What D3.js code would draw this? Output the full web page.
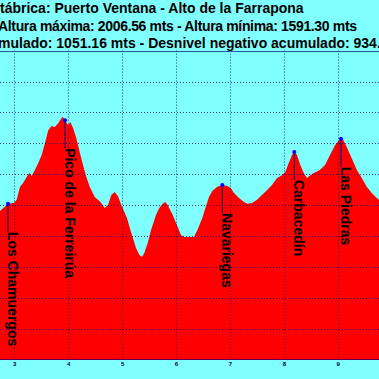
<!DOCTYPE html>
<html>
<head>
<meta charset="utf-8">
<script src="https://cdn.jsdelivr.net/npm/d3@7"></script>
<style>
  html, body { margin: 0; padding: 0; background: #80ffff; overflow: hidden; }
  svg { display: block; }
  text { font-family: "Liberation Sans", Arial, sans-serif; }
</style>
</head>
<body>
<svg id="chart" width="379" height="379"></svg>
<script>
// ---- Data ----
const titleLines = [
  "Cordillera Cantábrica: Puerto Ventana - Alto de la Farrapona",
  "Altura máxima: 2006.56 mts - Altura mínima: 1591.30 mts",
  "Desnivel positivo acumulado: 1051.16 mts - Desnivel negativo acumulado: 934.02 mts"
];
const distKm = [2.735, 2.883, 2.994, 3.045, 3.106, 3.167, 3.230, 3.278, 3.323, 3.384,
  3.445, 3.508, 3.570, 3.631, 3.694, 3.755, 3.816, 3.879, 3.894, 3.941,
  3.996, 4.039, 4.089, 4.150, 4.213, 4.275, 4.336, 4.399, 4.492, 4.553,
  4.614, 4.677, 4.738, 4.800, 4.863, 4.924, 4.985, 5.091, 5.165, 5.258,
  5.319, 5.369, 5.412, 5.475, 5.536, 5.629, 5.690, 5.753, 5.801, 5.846,
  5.939, 6.032, 6.093, 6.154, 6.260, 6.334, 6.395, 6.488, 6.551, 6.612,
  6.673, 6.766, 6.859, 6.952, 7.015, 7.076, 7.169, 7.262, 7.323, 7.410,
  7.503, 7.596, 7.689, 7.781, 7.874, 7.967, 8.028, 8.091, 8.152, 8.195,
  8.245, 8.306, 8.369, 8.430, 8.492, 8.555, 8.597, 8.672, 8.764, 8.857,
  8.950, 9.043, 9.061, 9.104, 9.167, 9.260, 9.353, 9.446, 9.538, 9.631,
  9.724, 9.766];
const elevM = [1701, 1724, 1727, 1737, 1779, 1792, 1811, 1824, 1814, 1834,
  1856, 1882, 1921, 1963, 1976, 1973, 1986, 2002, 2006.56, 1995,
  1979, 1989, 1970, 1937, 1892, 1850, 1811, 1779, 1746, 1737,
  1727, 1711, 1720, 1753, 1762, 1749, 1720, 1678, 1633, 1581,
  1559, 1552, 1565, 1597, 1639, 1688, 1711, 1724, 1730, 1720,
  1688, 1649, 1623, 1617, 1617, 1617, 1639, 1678, 1714, 1746,
  1766, 1779, 1785, 1782, 1775, 1759, 1743, 1730, 1724, 1727,
  1737, 1753, 1769, 1785, 1808, 1817, 1827, 1856, 1882, 1892,
  1882, 1850, 1824, 1808, 1817, 1824, 1827, 1834, 1850, 1882,
  1914, 1934, 1935, 1931, 1908, 1872, 1834, 1808, 1779, 1759,
  1743, 1737];
const waypointNames = ["Los Chamuergos", "Pico de la Ferreirúa", "Navariegas", "Carbacedín", "Las Piedras"];
const waypointKm = [2.883, 3.941, 6.859, 8.195, 9.061];
const waypointElev = [1724, 1995, 1785, 1892, 1935];
const xTickValues = [3, 4, 5, 6, 7, 8, 9];
const yGridValues = [1220, 1320, 1420, 1520, 1620, 1720, 1820, 1920, 2020, 2120, 2220];

// ---- Layout ----
const W = 379, H = 379;
const svg = d3.select("#chart");
const x = d3.scaleLinear().domain([2.735, 9.766]).range([0, W]);
const y = d3.scaleLinear().domain([1220, 2220]).range([359.6, 50.6]);

svg.append("rect").attr("width", W).attr("height", H).attr("fill", "#80ffff");

const profile = distKm.map((d, i) => ({ km: d, e: elevM[i] }));

// area
svg.append("path")
  .datum(profile)
  .attr("fill", "#ff0000")
  .attr("d", d3.area().x(d => x(d.km)).y0(y(1220)).y1(d => y(d.e)));

// grid
const grid = svg.append("g");
grid.selectAll("line.h").data(yGridValues.slice(1, -1)).join("line")
  .attr("x1", 0).attr("x2", W)
  .attr("y1", d => Math.round(y(d)) + 0.5).attr("y2", d => Math.round(y(d)) + 0.5)
  .attr("stroke", "#000080").attr("stroke-width", 1)
  .attr("stroke-dasharray", "1,2").attr("opacity", 0.75);
grid.selectAll("line.v").data(xTickValues).join("line")
  .attr("x1", d => Math.round(x(d)) + 0.5).attr("x2", d => Math.round(x(d)) + 0.5)
  .attr("y1", y(2220)).attr("y2", y(1220))
  .attr("stroke", "#000080").attr("stroke-width", 1)
  .attr("stroke-dasharray", "1,2").attr("opacity", 0.75);
// frame lines top & bottom
svg.append("line").attr("x1", 0).attr("x2", W)
  .attr("y1", Math.round(y(2220)) + 0.5).attr("y2", Math.round(y(2220)) + 0.5)
  .attr("stroke", "#2060a0").attr("stroke-width", 1);
svg.append("line").attr("x1", 0).attr("x2", W)
  .attr("y1", Math.round(y(1220)) - 0.5).attr("y2", Math.round(y(1220)) - 0.5)
  .attr("stroke", "#600040").attr("stroke-width", 1);

// x axis tick labels
const xAxis = d3.axisBottom(x).tickValues(xTickValues).tickSize(0).tickPadding(2).tickFormat(d3.format("d"));
const ax = svg.append("g").attr("transform", `translate(0,${y(1220)})`).call(xAxis);
ax.select(".domain").remove();
ax.selectAll("text").attr("font-size", 6).attr("font-weight", "bold")
  .attr("fill", "#000040").attr("font-family", "Liberation Sans, Arial, sans-serif");

// waypoints
const wps = waypointNames.map((n, i) => ({ name: n, km: waypointKm[i], e: waypointElev[i] }));
const wg = svg.append("g").selectAll("g").data(wps).join("g")
  .attr("transform", d => `translate(${x(d.km)},${y(d.e)})`);
wg.append("line").attr("x1", 0).attr("x2", 0).attr("y1", 0).attr("y2", 28)
  .attr("stroke", "#000080").attr("stroke-width", 1);
wg.append("circle").attr("r", 2).attr("fill", "#0000ff");
wg.append("text")
  .attr("transform", "translate(0,28) rotate(90)")
  .attr("font-size", 14).attr("font-weight", "bold").attr("fill", "#000000")
  .text(d => d.name);

// titles
const titleBaselines = [13, 31, 48];
const titleAnchors = [["tábrica", 0], ["Altura", -2], ["mulado", -2]];
titleLines.forEach((t, i) => {
  const el = svg.append("text").attr("y", titleBaselines[i])
    .attr("font-size", 14).attr("font-weight", "bold").attr("fill", "#000000").text(t);
  if (i === 1) {
    // the reference's second line is a little tighter: spans about x = -2 .. 357
    el.attr("textLength", 359).attr("lengthAdjust", "spacing");
  }
  const idx = t.indexOf(titleAnchors[i][0]);
  const off = idx > 0 ? el.node().getSubStringLength(0, idx) : 0;
  el.attr("x", titleAnchors[i][1] - off);
});
</script>
</body>
</html>
